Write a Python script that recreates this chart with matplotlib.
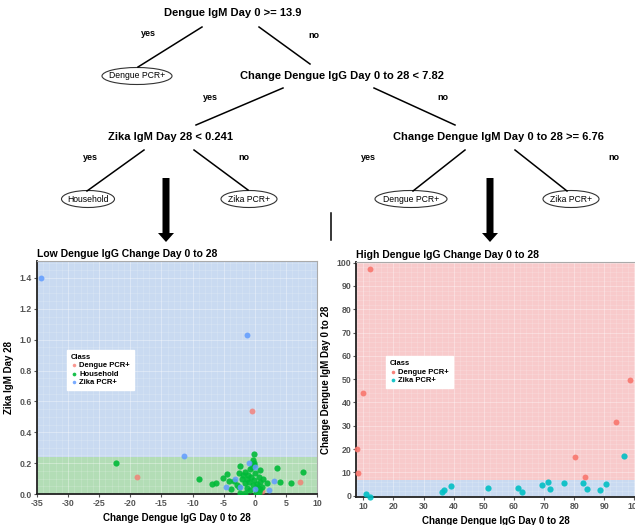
import matplotlib
matplotlib.use("Agg")
import matplotlib.pyplot as plt
from matplotlib.patches import Ellipse, FancyArrow
import numpy as np

# ---------------- data ----------------
# Left panel: Low Dengue IgG change
left_dengue_x = [-0.4, -18.9, 7.2, 1.2]
left_dengue_y = [0.54, 0.112, 0.076, 0.022]
left_zika_x = [-34.3, -1.25, -11.3, -1.0, 0.1, -3.1, -4.6, -2.3, 3.1, 2.3, 0.0]
left_zika_y = [1.40, 1.03, 0.249, 0.203, 0.177, 0.100, 0.043, 0.043, 0.084, 0.026, 0.030]
left_house_x = [-22.25, -8.9, -6.8, -6.3, -5.1, -4.5, -4.1, -3.4, -2.3, -2.5, -2.0, -2.5,
                -2.4, -1.6, -1.5, -1.2, -0.8, -0.6, -0.4, -0.3, -0.07, -0.07, 0.1, -0.07,
                -0.3, 0.35, 0.6, 0.8, 0.9, 0.6, 1.4, 1.9, 3.5, 4.1, 5.9, 7.7, -1.0, -0.7,
                -1.5, 0.2, 1.2, -1.9, -2.8, -1.1, 0.4, 0.5, -0.2, -3.8, -1.3, 0.9]
left_house_y = [0.200, 0.097, 0.063, 0.073, 0.106, 0.130, 0.084, 0.086, 0.180, 0.134,
                0.095, 0.048, 0.009, 0.145, 0.069, 0.037, 0.160, 0.108, 0.177, 0.220,
                0.258, 0.203, 0.134, 0.091, 0.058, 0.048, 0.110, 0.156, 0.080, 0.015,
                0.095, 0.069, 0.167, 0.076, 0.069, 0.140, 0.080, 0.026, 0.004, 0.004,
                0.048, 0.120, 0.060, 0.125, 0.065, 0.040, 0.190, 0.030, 0.100, 0.030]

# Right panel: High Dengue IgG change
right_dengue_x = [12.4, 10.0, 8.0, 8.3, 80.4, 83.5, 94.0, 98.4]
right_dengue_y = [97.1, 43.9, 19.9, 9.6, 16.7, 8.2, 31.8, 49.5]
right_zika_x = [10.9, 12.2, 36.0, 36.8, 39.2, 51.4, 61.5, 62.8, 69.2, 71.4, 72.1, 76.6,
                83.0, 84.3, 88.4, 90.7, 96.5]
right_zika_y = [0.7, -0.4, 1.7, 2.4, 4.1, 3.1, 3.1, 1.4, 4.7, 5.7, 2.9, 5.2, 5.6, 2.7,
                2.6, 4.9, 17.0]

zika_igm_split = 0.241
dengue_igm_split = 6.76

left_xticks = [-35, -30, -25, -20, -15, -10, -5, 0, 5, 10]
left_yticks = [0.0, 0.2, 0.4, 0.6, 0.8, 1.0, 1.2, 1.4]
right_xticks = [10, 20, 30, 40, 50, 60, 70, 80, 90, 100]
right_yticks = [0, 10, 20, 30, 40, 50, 60, 70, 80, 90, 100]

C_DEN = "#F8766D"
C_HOUSE = "#00BA38"
C_ZIKA_L = "#619CFF"
C_ZIKA_R = "#00BFC4"
BG_BLUE = "#C9DAF1"
BG_GREEN = "#B3DDB6"
BG_RED = "#F8CACB"

plt.rcParams['font.family'] = ['Liberation Sans', 'DejaVu Sans']
plt.rcParams['axes.unicode_minus'] = False

W, H = 635, 525
fig = plt.figure(figsize=(W / 100, H / 100), dpi=100)

def ax_rect(l, r, t, b):
    return [l / W, 1 - b / H, (r - l) / W, (b - t) / H]

def style_axes(ax):
    ax.tick_params(axis='both', labelsize=6.3, colors='#555555', length=2, pad=1.5)
    for lab in ax.get_xticklabels() + ax.get_yticklabels():
        lab.set_fontweight('bold')
    for s in ['left', 'bottom']:
        ax.spines[s].set_color('#222222')
        ax.spines[s].set_linewidth(1.3)
    for s in ['top', 'right']:
        ax.spines[s].set_color('#aaaaaa')
        ax.spines[s].set_linewidth(0.8)
    ax.minorticks_on()
    ax.tick_params(which='minor', length=0)
    ax.grid(True, which='major', color='white', alpha=0.4, lw=0.6)
    ax.grid(True, which='minor', color='white', alpha=0.25, lw=0.4)
    ax.set_axisbelow(True)

# ---------------- left panel ----------------
axL = fig.add_axes(ax_rect(37, 317, 261, 494))
axL.set_xlim(-35, 10)
axL.set_ylim(0, 1.51)
axL.axhspan(zika_igm_split, 1.51, color=BG_BLUE, zorder=0, lw=0)
axL.axhspan(0, zika_igm_split, color=BG_GREEN, zorder=0, lw=0)
axL.scatter(left_dengue_x, left_dengue_y, s=18, color=C_DEN, alpha=0.75, lw=0, label='Dengue PCR+', zorder=3)
axL.scatter(left_house_x, left_house_y, s=20, color=C_HOUSE, alpha=0.9, lw=0, label='Household', zorder=3)
axL.scatter(left_zika_x, left_zika_y, s=18, color=C_ZIKA_L, alpha=0.85, lw=0, label='Zika PCR+', zorder=3)
axL.set_xticks(left_xticks)
axL.set_yticks(left_yticks)
axL.set_yticklabels([f"{v:.1f}" for v in left_yticks])
style_axes(axL)
axL.set_title("Low Dengue IgG Change Day 0 to 28", loc='left', fontsize=7.5,
              fontweight='bold', pad=3, x=0.0)
axL.set_xlabel("Change Dengue IgG Day 0 to 28", fontsize=7, fontweight='bold', labelpad=4)
axL.set_ylabel("Zika IgM Day 28", fontsize=7, fontweight='bold', labelpad=4)
legL = axL.legend(title="Class", loc='upper left', bbox_to_anchor=(0.093, 0.635),
                  fontsize=5.5, title_fontsize=5.5, frameon=True, fancybox=False,
                  edgecolor='white', framealpha=1, handletextpad=0.1, borderpad=0.5,
                  labelspacing=0.15, markerscale=0.6, handlelength=1.0)
legL._legend_box.align = "left"
legL.get_title().set_fontweight('bold')
for t in legL.get_texts():
    t.set_fontweight('bold')

# ---------------- right panel ----------------
axR = fig.add_axes(ax_rect(356, 636, 262, 497))
axR.set_xlim(7.6, 100.5)
axR.set_ylim(-0.6, 100.3)
axR.axhspan(dengue_igm_split, 100.3, color=BG_RED, zorder=0, lw=0)
axR.axhspan(-0.6, dengue_igm_split, color=BG_BLUE, zorder=0, lw=0)
axR.scatter(right_dengue_x, right_dengue_y, s=18, color=C_DEN, alpha=0.9, lw=0, label='Dengue PCR+', zorder=3, clip_on=False)
axR.scatter(right_zika_x, right_zika_y, s=20, color=C_ZIKA_R, alpha=0.9, lw=0, label='Zika PCR+', zorder=3, clip_on=False)
axR.set_xticks(right_xticks)
axR.set_yticks(right_yticks)
style_axes(axR)
axR.set_title("High Dengue IgG Change Day 0 to 28", loc='left', fontsize=7.5,
              fontweight='bold', pad=3)
axR.set_xlabel("Change Dengue IgG Day 0 to 28", fontsize=7, fontweight='bold', labelpad=4)
axR.set_ylabel("Change Dengue IgM Day 0 to 28", fontsize=7, fontweight='bold', labelpad=4)
legR = axR.legend(title="Class", loc='upper left', bbox_to_anchor=(0.093, 0.615),
                  fontsize=5.5, title_fontsize=5.5, frameon=True, fancybox=False,
                  edgecolor='white', framealpha=1, handletextpad=0.1, borderpad=0.5,
                  labelspacing=0.15, markerscale=0.6, handlelength=1.0)
legR._legend_box.align = "left"
legR.get_title().set_fontweight('bold')
for t in legR.get_texts():
    t.set_fontweight('bold')

# ---------------- decision tree overlay ----------------
ov = fig.add_axes([0, 0, 1, 1], facecolor='none')
ov.set_xlim(0, W)
ov.set_ylim(H, 0)
ov.axis('off')

def node(x, y, s):
    ov.text(x, y, s, ha='center', va='center', fontsize=8, fontweight='bold')

def lab(x, y, s):
    ov.text(x, y, s, ha='center', va='center', fontsize=6.5, fontweight='bold')

def leaf(x, y, w, s):
    ov.add_patch(Ellipse((x, y), w, 17, fill=False, ec='#333333', lw=0.8))
    ov.text(x, y, s, ha='center', va='center', fontsize=6.2)

def seg(x0, y0, x1, y1):
    ov.plot([x0, x1], [y0, y1], color='black', lw=1.1)

node(233, 13, "Dengue IgM Day 0 >= 13.9")
lab(148, 34, "yes"); lab(314, 36, "no")
seg(202, 27, 138, 67); seg(259, 27, 310, 64)
leaf(137, 76, 70, "Dengue PCR+")
node(342, 76, "Change Dengue IgG Day 0 to 28 < 7.82")
lab(210, 97, "yes"); lab(443, 97, "no")
seg(283, 88, 196, 125); seg(374, 88, 455, 125)
node(170, 137, "Zika IgM Day 28 < 0.241")
node(498, 137, "Change Dengue IgM Day 0 to 28 >= 6.76")
lab(90, 157, "yes"); lab(244, 157, "no"); lab(368, 157, "yes"); lab(614, 157, "no")
seg(144, 150, 87, 191); seg(194, 150, 248, 190)
seg(465, 150, 413, 191); seg(515, 150, 567, 191)
leaf(88, 199, 53, "Household")
leaf(249, 199, 56, "Zika PCR+")
leaf(411, 199, 72, "Dengue PCR+")
leaf(571, 199, 56, "Zika PCR+")

for ax_x in (166, 490):
    ov.add_patch(FancyArrow(ax_x, 178, 0, 64, width=7, head_width=16, head_length=9,
                            length_includes_head=True, color='black', lw=0))
seg(331, 213, 331, 240)

fig.savefig("out.png", dpi=100)
